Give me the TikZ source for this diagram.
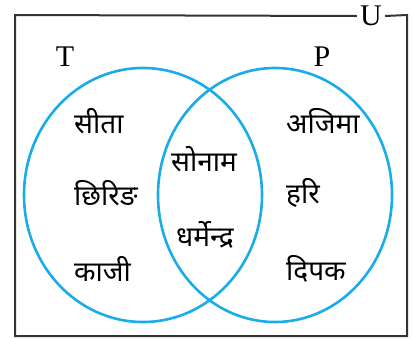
\documentclass[tikz,border=0pt]{standalone}
\usepackage{fontspec}
\setmainfont{Liberation Serif}
\newfontfamily\devafont[Script=Devanagari]{Noto Sans}
\usetikzlibrary{positioning,calc}
\definecolor{SetLine}{HTML}{1AACE8}
\definecolor{Frame}{HTML}{333333}
\tikzset{
	setname/.style={font=\fontsize{30}{30}\selectfont, inner sep=0pt},
	member/.style={font=\devafont\fontsize{28}{30}\selectfont, inner sep=0pt, anchor=west},
	setring/.style={draw=SetLine, line width=2.6pt}
}
\begin{document}
\begin{tikzpicture}[x=1pt,y=-1pt]
	\useasboundingbox (0,0) rectangle (412,338);
	% universal set
	\node[setname] (U) at (371,16) {U};
	\draw[Frame, line width=2pt]
	(U.east) ++(3pt,0) -- (407,15) -- (407,336) -- (15,336) -- (15,15) -- ($(U.west)+(-3pt,0)$);
	% the two sets
	\draw[setring] (143,195) ellipse [x radius=119pt, y radius=127pt];
	\draw[setring] (275,195) ellipse [x radius=117pt, y radius=127pt];
	\node[setname] (T) at (65,57) {T};
	\node[setname] (P) at (322,57) {P};
	% members of T only
	\node[member] (sita) at (74,121) {सीता};
	\node[member] (chhiring) at (74,193) {छिरिङ};
	\node[member] (kaji) at (74,269) {काजी};
	% members of both
	\node[member] (sonam) at (171,159) {सोनाम};
	\node[member] (dharmendra) at (176,235) {धर्मेन्द्र};
	% members of P only
	\node[member] (ajima) at (286,121) {अजिमा};
	\node[member] (hari) at (286,193) {हरि};
	\node[member] (dipak) at (286,269) {दिपक};
\end{tikzpicture}
\end{document}
